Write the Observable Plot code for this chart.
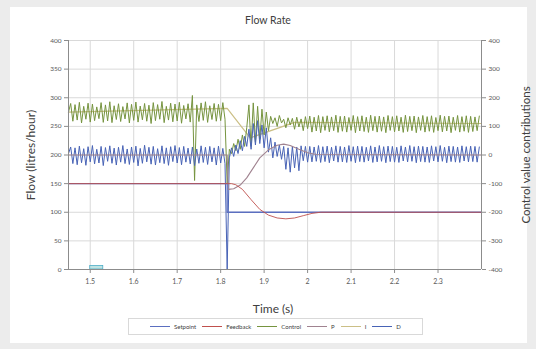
<!DOCTYPE html>
<html><head><meta charset="utf-8">
<script src="https://cdn.jsdelivr.net/npm/d3@7"></script>
<script src="https://cdn.jsdelivr.net/npm/@observablehq/plot@0.6"></script>
<style>
body{margin:0;background:#ececec;font-family:Lato,"Open Sans",sans-serif;}
#wrap{position:relative;width:536px;height:349px;overflow:hidden;background:#ececec;}
#panel{position:absolute;left:10px;top:7px;width:517px;height:336px;background:#fff;}
#chart{position:absolute;left:0;top:0;}
.t{position:absolute;color:#404040;white-space:nowrap;}
#title{left:0;width:536px;top:14px;text-align:center;font-size:10.5px;}
#ylab{left:30px;top:155px;font-size:12px;transform:translate(-50%,-50%) rotate(-90deg);}
#y2lab{left:525px;top:155px;font-size:11.5px;transform:translate(-50%,-50%) rotate(-90deg);}
#xlab{left:273px;top:308px;font-size:12px;transform:translate(-50%,-50%);}
#legend{position:absolute;left:128px;top:318px;width:295px;height:17px;border:1px solid #d9d9d9;box-sizing:border-box;display:flex;align-items:center;justify-content:center;gap:6px;font-size:6px;color:#404040;}
.li{display:flex;align-items:center;gap:4px;}
.sw{display:inline-block;width:20px;height:0;border-top:1px solid;}
</style></head><body>
<div id="wrap">
<div id="panel"></div>
<div id="chart"></div>
<div class="t" id="title">Flow Rate</div>
<div class="t" id="ylab">Flow (litres/hour)</div>
<div class="t" id="y2lab">Control value contributions</div>
<div class="t" id="xlab">Time (s)</div>
<div id="legend"></div>
</div>
<script>
// ---- tick labels ----
const xTicks = [1.5,1.6,1.7,1.8,1.9,2,2.1,2.2,2.3];
const leftTicks = [0,50,100,150,200,250,300,350,400];
const rightTicks = [-400,-300,-200,-100,0,100,200,300,400];
const seriesNames = ["Setpoint","Feedback","Control","P","I","D"];
const seriesColors = ["#5b6fc0","#c0504d","#76943f","#a08390","#cbbf86","#4863b6"];

// ---- sampled series (sample start / step in seconds) ----
const sampleStart = 1.45, sampleStep = 0.005;
// Control (right axis units)
const controlVals = [
150,180,118,176,122,184,112,170,125,181,
115,178,120,168,127,183,114,175,119,186,
113,172,124,179,117,169,126,182,112,177,
121,185,115,171,123,180,118,174,110,183,
120,176,125,187,113,170,122,181,116,178,
119,184,111,173,126,179,115,208,-89,175,
117,182,121,186,114,172,124,180,118,177,
120,183,125,
-100,20,5,40,15,55,20,70,30,95,
175,30,182,45,170,55,160,70,150,85,
135,110,130,100,138,112,125,95,130,105,
128,90,132,98,126,85,134,92,
136,80,132,84,138,78,134,86,137,81,
133,85,139,79,135,83,136,80,131,86,
138,78,134,84,137,82,132,79,139,85,
135,80,136,83,133,78,138,86,134,81,
137,84,132,79,139,82,135,85,136,78,
133,86,138,80,134,83,137,79,131,85,
139,81,135,84,136,78,132,86,138,80,
134,83,137,79,135,82,133,85,136];
// D (right axis units)
const dVals = [
5,28,-30,25,-34,31,-27,22,-36,29,
-24,33,-31,20,-28,30,-37,26,-22,32,
-29,24,-35,27,-25,33,-30,21,-33,28,
-26,31,-38,23,-29,34,-24,27,-32,30,
-35,22,-27,32,-30,25,-36,29,-23,33,
-28,26,-34,30,-25,24,-31,28,-37,21,
-29,32,-26,27,-33,30,-24,25,-35,31,
-28,23,-30,
-400,-10,25,-5,35,5,50,15,65,30,
90,20,110,35,120,40,105,25,95,10,
60,-10,45,-5,35,-15,30,-50,25,-60,
30,-45,28,-55,32,-20,30,-25,
30,-24,28,-22,33,-26,29,-23,31,-27,
27,-21,32,-25,30,-24,28,-26,33,-22,
29,-27,31,-23,30,-25,27,-21,32,-26,
28,-24,33,-22,29,-27,31,-23,30,-25,
27,-26,32,-21,28,-24,33,-22,29,-27,
31,-23,30,-25,28,-26,32,-21,29,-24,
33,-22,27,-27,31,-23,30,-25,28,-26,
32,-21,29,-24,31,-23,30,-25,28];

// ---- smooth series ----
const setpointT = [1.45,1.815,1.815,2.4];
const setpointV = [150,150,100,100];           // left axis
const feedbackT = [1.45,1.825,1.835,1.85,1.87,1.89,1.91,1.93,1.95,1.97,1.99,2.01,2.03,2.4];
const feedbackV = [150,150,148,140,122,105,95,90,88.5,90,94,98,100,100]; // left axis
const pT = [1.45,1.815,1.8175,1.83,1.845,1.86,1.875,1.89,1.91,1.93,1.945,1.96,1.98,2.0,2.02,2.4];
const pV = [0,0,-120,-118,-105,-80,-45,-10,18,34,38,33,20,8,2,0];         // right axis
const iT = [1.45,1.815,1.868,1.97,2.4];
const iV = [150,163,60,114,110];                 // right axis
const boxT = [1.5,1.53];
const boxV = [0,6];

// right axis -> left axis position
const toLeft = r => r/2 + 200;

const sampled = vals => vals.map((v,i)=>({t: sampleStart + i*sampleStep, v}));
const pairs = (T,V) => T.map((t,i)=>({t, v: V[i]}));

const grid = "#d9d9d9", axisC = "#8c8c8c";
const plot = Plot.plot({
  width: 536, height: 300,
  marginLeft: 68, marginRight: 55, marginTop: 40, marginBottom: 31,
  x: {domain: [1.45, 2.4]},
  y: {domain: [0, 400]},
  style: {background: "transparent", fontFamily: "Lato, 'Open Sans', sans-serif", color: "#595959", overflow: "visible"},
  marks: [
    Plot.gridX(xTicks, {stroke: grid, strokeOpacity: 1}),
    Plot.gridY(leftTicks, {stroke: grid, strokeOpacity: 1}),
    Plot.rect([{x1: boxT[0], x2: boxT[1], y1: boxV[0], y2: boxV[1]}], {x1:"x1", x2:"x2", y1:"y1", y2:"y2", fill: "#bfe3e3", stroke: "#4bacc6", strokeWidth: 0.8}),
    Plot.line(pairs(iT,iV), {x:"t", y: d=>toLeft(d.v), stroke: seriesColors[4], strokeWidth: 1.2}),
    Plot.line(sampled(controlVals), {x:"t", y: d=>toLeft(d.v), stroke: seriesColors[2], strokeWidth: 1}),
    Plot.line(sampled(dVals), {x:"t", y: d=>toLeft(d.v), stroke: seriesColors[5], strokeWidth: 1}),
    Plot.line(pairs(pT,pV), {x:"t", y: d=>toLeft(d.v), stroke: seriesColors[3], strokeWidth: 1.1}),
    Plot.line(pairs(setpointT,setpointV), {x:"t", y:"v", stroke: seriesColors[0], strokeWidth: 1.3}),
    Plot.line(pairs(feedbackT,feedbackV), {x:"t", y:"v", stroke: seriesColors[1], strokeWidth: 0.9}),
    Plot.ruleX([1.45], {stroke: axisC}),
    Plot.ruleX([2.4], {stroke: axisC}),
    Plot.ruleY([0], {stroke: axisC}),
    Plot.axisY(leftTicks, {anchor: "left", tickSize: 4, tickPadding: 3, fontSize: 6.5, stroke: axisC, label: null}),
    Plot.axisY(rightTicks.map(toLeft), {anchor: "right", tickSize: 4, tickPadding: 3, fontSize: 6.5, stroke: axisC, label: null, tickFormat: d => String((d-200)*2)}),
    Plot.axisX(xTicks, {tickSize: 4, tickPadding: 6, fontSize: 7, stroke: axisC, label: null, tickFormat: d => String(d)})
  ]
});
document.getElementById("chart").appendChild(plot);

const lg = document.getElementById("legend");
seriesNames.forEach((n,i)=>{
  const s = document.createElement("span"); s.className="li";
  s.innerHTML = `<span class="sw" style="border-color:${seriesColors[i]}"></span><span>${n}</span>`;
  lg.appendChild(s);
});
</script>
</body></html>
